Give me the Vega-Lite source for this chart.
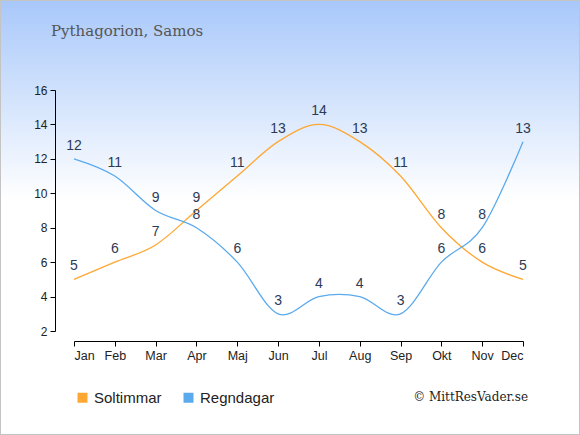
{
  "$schema": "https://vega.github.io/schema/vega-lite/v6.json",
  "autosize": "none",
  "width": 449,
  "height": 241,
  "padding": {"left": 74, "top": 90, "right": 57, "bottom": 104},
  "background": "#ffffff",
  "title": {
    "text": "Pythagorion, Samos",
    "anchor": "start",
    "frame": "group",
    "dx": -23,
    "offset": -40,
    "font": "DejaVu Serif",
    "fontSize": 15,
    "fontWeight": "normal",
    "color": "#555555"
  },
  "config": {
    "view": {"stroke": null},
    "axisX": {
      "title": null,
      "grid": false,
      "offset": 10,
      "zindex": 2,
      "domainColor": "#000000",
      "tickColor": "#000000",
      "tickSize": 5,
      "labelFont": "Liberation Sans",
      "labelFontSize": 12.5,
      "labelColor": "#222222",
      "labelOverlap": false,
      "labelPadding": 3
    },
    "axisY": {
      "title": null,
      "grid": false,
      "offset": 19,
      "zindex": 2,
      "domainColor": "#000000",
      "tickColor": "#000000",
      "tickSize": 5,
      "labelFont": "Liberation Sans",
      "labelFontSize": 12,
      "labelColor": "#222222",
      "labelOverlap": false,
      "labelPadding": 3
    }
  },
  "data": {
    "values": [
      {"month": "Jan", "m": 1, "series": "Soltimmar", "value": 5},
      {"month": "Feb", "m": 2, "series": "Soltimmar", "value": 6},
      {"month": "Mar", "m": 3, "series": "Soltimmar", "value": 7},
      {"month": "Apr", "m": 4, "series": "Soltimmar", "value": 9},
      {"month": "Maj", "m": 5, "series": "Soltimmar", "value": 11},
      {"month": "Jun", "m": 6, "series": "Soltimmar", "value": 13},
      {"month": "Jul", "m": 7, "series": "Soltimmar", "value": 14},
      {"month": "Aug", "m": 8, "series": "Soltimmar", "value": 13},
      {"month": "Sep", "m": 9, "series": "Soltimmar", "value": 11},
      {"month": "Okt", "m": 10, "series": "Soltimmar", "value": 8},
      {"month": "Nov", "m": 11, "series": "Soltimmar", "value": 6},
      {"month": "Dec", "m": 12, "series": "Soltimmar", "value": 5},
      {"month": "Jan", "m": 1, "series": "Regndagar", "value": 12},
      {"month": "Feb", "m": 2, "series": "Regndagar", "value": 11},
      {"month": "Mar", "m": 3, "series": "Regndagar", "value": 9},
      {"month": "Apr", "m": 4, "series": "Regndagar", "value": 8},
      {"month": "Maj", "m": 5, "series": "Regndagar", "value": 6},
      {"month": "Jun", "m": 6, "series": "Regndagar", "value": 3},
      {"month": "Jul", "m": 7, "series": "Regndagar", "value": 4},
      {"month": "Aug", "m": 8, "series": "Regndagar", "value": 4},
      {"month": "Sep", "m": 9, "series": "Regndagar", "value": 3},
      {"month": "Okt", "m": 10, "series": "Regndagar", "value": 6},
      {"month": "Nov", "m": 11, "series": "Regndagar", "value": 8},
      {"month": "Dec", "m": 12, "series": "Regndagar", "value": 13}
    ]
  },
  "layer": [
    {
      "data": {"values": [{"bg": 1}]},
      "mark": {
        "type": "rect",
        "clip": false,
        "stroke": "#c4c4c4",
        "strokeWidth": 2,
        "fill": {
          "gradient": "linear",
          "x1": 0, "y1": 0, "x2": 0, "y2": 1,
          "stops": [
            {"offset": 0, "color": "#a8c8fa"},
            {"offset": 0.46, "color": "#ffffff"},
            {"offset": 1, "color": "#ffffff"}
          ]
        }
      },
      "encoding": {
        "x": {
          "datum": -0.813,
          "type": "quantitative",
          "scale": {"domain": [1, 12], "nice": false, "zero": false},
          "axis": {
            "values": [1, 2, 3, 4, 5, 6, 7, 8, 9, 10, 11, 12],
            "zindex": 2,
            "labelExpr": "['Jan','Feb','Mar','Apr','Maj','Jun','Jul','Aug','Sep','Okt','Nov','Dec'][datum.value - 1]"
          }
        },
        "x2": {"datum": 13.396},
        "y": {
          "datum": -4.042,
          "type": "quantitative",
          "scale": {"domain": [2, 16], "nice": false, "zero": false},
          "axis": {"values": [2, 4, 6, 8, 10, 12, 14, 16], "zindex": 2}
        },
        "y2": {"datum": 21.228}
      }
    },
    {
      "mark": {"type": "line", "interpolate": "cardinal", "strokeWidth": 1.3},
      "encoding": {
        "x": {
          "field": "m",
          "type": "quantitative",
          "axis": {
            "values": [1, 2, 3, 4, 5, 6, 7, 8, 9, 10, 11, 12],
            "zindex": 2,
            "labelExpr": "['Jan','Feb','Mar','Apr','Maj','Jun','Jul','Aug','Sep','Okt','Nov','Dec'][datum.value - 1]"
          }
        },
        "y": {
          "field": "value",
          "type": "quantitative",
          "axis": {"values": [2, 4, 6, 8, 10, 12, 14, 16], "zindex": 2}
        },
        "color": {
          "field": "series",
          "type": "nominal",
          "scale": {"domain": ["Soltimmar", "Regndagar"], "range": ["#ffa733", "#5aaaee"]},
          "legend": {
            "title": null,
            "orient": "none",
            "direction": "horizontal",
            "legendX": 1,
            "legendY": 300,
            "symbolType": "square",
            "symbolSize": 100,
            "labelFont": "Liberation Sans",
            "labelFontSize": 15,
            "labelColor": "#222222",
            "labelOffset": 4,
            "columnPadding": 19,
            "encode": {
              "symbols": {
                "update": {
                  "fill": {"scale": "color", "field": "value"},
                  "strokeWidth": {"value": 0}
                }
              }
            }
          }
        }
      }
    },
    {
      "mark": {
        "type": "text",
        "dy": -13,
        "font": "Liberation Sans",
        "fontSize": 14,
        "color": "#2d3a55"
      },
      "encoding": {
        "x": {
          "field": "m",
          "type": "quantitative",
          "axis": {
            "values": [1, 2, 3, 4, 5, 6, 7, 8, 9, 10, 11, 12],
            "zindex": 2,
            "labelExpr": "['Jan','Feb','Mar','Apr','Maj','Jun','Jul','Aug','Sep','Okt','Nov','Dec'][datum.value - 1]"
          }
        },
        "y": {
          "field": "value",
          "type": "quantitative",
          "axis": {"values": [2, 4, 6, 8, 10, 12, 14, 16], "zindex": 2}
        },
        "text": {"field": "value", "type": "quantitative"}
      }
    },
    {
      "data": {"values": [{"credit": "© MittResVader.se"}]},
      "mark": {
        "type": "text",
        "clip": false,
        "align": "right",
        "baseline": "middle",
        "font": "DejaVu Serif",
        "fontSize": 12,
        "color": "#222222"
      },
      "encoding": {
        "x": {
          "datum": 12.123,
          "type": "quantitative",
          "axis": {
            "values": [1, 2, 3, 4, 5, 6, 7, 8, 9, 10, 11, 12],
            "zindex": 2,
            "labelExpr": "['Jan','Feb','Mar','Apr','Maj','Jun','Jul','Aug','Sep','Okt','Nov','Dec'][datum.value - 1]"
          }
        },
        "y": {
          "datum": -1.834,
          "type": "quantitative",
          "axis": {"values": [2, 4, 6, 8, 10, 12, 14, 16], "zindex": 2}
        },
        "text": {"field": "credit", "type": "nominal"}
      }
    }
  ]
}
